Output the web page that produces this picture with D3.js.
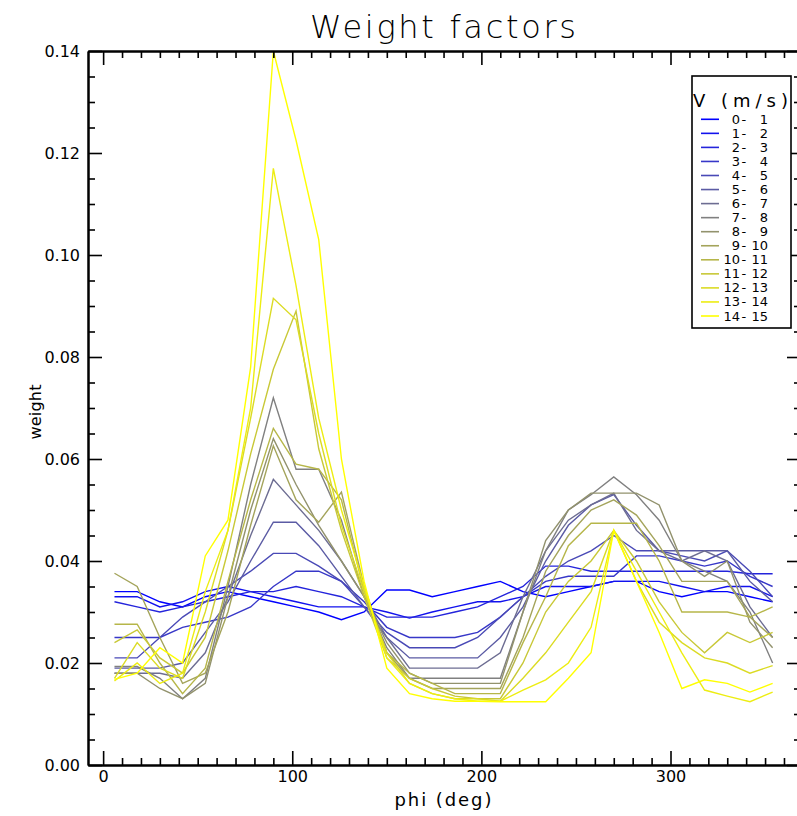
<!DOCTYPE html>
<html><head><meta charset="utf-8">
<script src="https://cdn.jsdelivr.net/npm/d3@7"></script>
<style>
body{margin:0;background:#fff}
svg{display:block}
text{font-family:"DejaVu Sans","Liberation Sans",sans-serif;fill:#000}
</style>
</head><body>
<svg id="chart" width="797" height="816"></svg>
<script>
// ---- data ----
const phi = [6,18,30,42,54,66,78,90,102,114,126,138,150,162,174,186,198,210,222,234,246,258,270,282,294,306,318,330,342,354];
const speedLo = [0,1,2,3,4,5,6,7,8,9,10,11,12,13,14];
const speedHi = [1,2,3,4,5,6,7,8,9,10,11,12,13,14,15];
const w00 = [0.034,0.034,0.032,0.031,0.033,0.034,0.033,0.032,0.031,0.030,0.0285,0.030,0.0343,0.0343,0.033,0.034,0.035,0.036,0.034,0.033,0.034,0.035,0.036,0.036,0.034,0.033,0.034,0.034,0.033,0.032];
const w01 = [0.033,0.033,0.031,0.032,0.034,0.035,0.034,0.033,0.032,0.031,0.031,0.031,0.030,0.0288,0.030,0.031,0.032,0.032,0.033,0.035,0.035,0.035,0.036,0.036,0.036,0.035,0.034,0.035,0.035,0.033];
const w02 = [0.032,0.031,0.030,0.031,0.032,0.033,0.034,0.034,0.035,0.034,0.033,0.031,0.029,0.029,0.029,0.030,0.031,0.033,0.035,0.039,0.039,0.038,0.038,0.038,0.038,0.038,0.038,0.038,0.0375,0.0375];
const w03 = [0.025,0.025,0.025,0.027,0.028,0.029,0.031,0.035,0.038,0.038,0.036,0.032,0.027,0.025,0.025,0.025,0.026,0.029,0.033,0.036,0.037,0.037,0.037,0.041,0.041,0.040,0.039,0.040,0.037,0.035];
const w04 = [0.021,0.021,0.025,0.029,0.032,0.035,0.038,0.0415,0.0415,0.039,0.036,0.031,0.026,0.023,0.023,0.023,0.025,0.029,0.033,0.037,0.040,0.042,0.045,0.042,0.042,0.041,0.040,0.042,0.038,0.033];
const w05 = [0.019,0.019,0.019,0.020,0.026,0.032,0.040,0.0476,0.0476,0.043,0.037,0.031,0.025,0.021,0.021,0.021,0.021,0.025,0.031,0.040,0.047,0.051,0.053,0.047,0.042,0.042,0.042,0.042,0.036,0.032];
const w06 = [0.018,0.018,0.018,0.017,0.022,0.033,0.045,0.056,0.051,0.046,0.040,0.033,0.025,0.019,0.019,0.019,0.019,0.022,0.033,0.042,0.048,0.051,0.0533,0.046,0.042,0.040,0.042,0.040,0.031,0.025];
const w07 = [0.0193,0.0193,0.017,0.013,0.017,0.035,0.055,0.072,0.058,0.058,0.048,0.033,0.023,0.017,0.017,0.017,0.017,0.017,0.030,0.042,0.050,0.053,0.0565,0.053,0.048,0.040,0.038,0.036,0.030,0.020];
const w08 = [0.018,0.018,0.015,0.013,0.016,0.033,0.050,0.064,0.055,0.047,0.040,0.033,0.024,0.018,0.016,0.016,0.016,0.016,0.030,0.044,0.050,0.0533,0.0533,0.0533,0.051,0.040,0.037,0.040,0.028,0.023];
const w09 = [0.0376,0.035,0.025,0.016,0.018,0.030,0.047,0.0626,0.052,0.0476,0.0535,0.035,0.022,0.017,0.015,0.015,0.015,0.015,0.025,0.038,0.045,0.050,0.052,0.049,0.043,0.036,0.036,0.036,0.029,0.025];
const w10 = [0.0276,0.0276,0.020,0.014,0.019,0.036,0.052,0.066,0.059,0.058,0.052,0.034,0.022,0.018,0.016,0.014,0.014,0.014,0.024,0.033,0.043,0.0474,0.0474,0.0474,0.040,0.030,0.030,0.030,0.029,0.031];
const w11 = [0.024,0.0265,0.021,0.018,0.025,0.042,0.061,0.0776,0.089,0.062,0.046,0.033,0.021,0.017,0.015,0.0135,0.013,0.013,0.020,0.030,0.036,0.040,0.046,0.040,0.032,0.026,0.022,0.026,0.024,0.026];
const w12 = [0.017,0.024,0.019,0.017,0.030,0.046,0.068,0.0915,0.0873,0.065,0.047,0.034,0.022,0.016,0.014,0.013,0.013,0.0125,0.017,0.022,0.028,0.034,0.046,0.036,0.028,0.024,0.021,0.020,0.018,0.0195];
const w13 = [0.0165,0.020,0.016,0.018,0.034,0.046,0.070,0.117,0.094,0.068,0.050,0.035,0.021,0.016,0.014,0.013,0.0125,0.0125,0.0147,0.0167,0.020,0.027,0.046,0.038,0.030,0.022,0.0147,0.0135,0.0124,0.0143];
const w14 = [0.0168,0.018,0.023,0.020,0.041,0.048,0.078,0.140,0.1225,0.103,0.060,0.036,0.019,0.014,0.013,0.0125,0.0125,0.0124,0.0124,0.0124,0.017,0.022,0.046,0.036,0.026,0.015,0.0167,0.016,0.0143,0.016];
const series = [w00,w01,w02,w03,w04,w05,w06,w07,w08,w09,w10,w11,w12,w13,w14];
const xMajor = [0,100,200,300];
const xMinor = [10,20,30,40,50,60,70,80,90,110,120,130,140,150,160,170,180,190,210,220,230,240,250,260,270,280,290,310,320,330,340,350,360];
const yMajor = [0,0.02,0.04,0.06,0.08,0.10,0.12,0.14];
const yMinor = [0.005,0.01,0.015,0.025,0.03,0.035,0.045,0.05,0.055,0.065,0.07,0.075,0.085,0.09,0.095,0.105,0.11,0.115,0.125,0.13,0.135];

// ---- drawing ----
const svg = d3.select("#chart");
const L = 88, R = 801, T = 51, B = 765;
const x = d3.scaleLinear().domain([-8, 369]).range([L, R]);
const y = d3.scaleLinear().domain([0, 0.14]).range([B, T]);
const color = d3.scaleLinear().domain([0, 14]).range(["#0000ff", "#ffff00"]).interpolate(d3.interpolateRgb);

// data lines
const line = d3.line().x((d, i) => x(phi[i])).y(d => y(d));
svg.append("g").selectAll("path").data(series).join("path")
  .attr("d", line).attr("fill", "none")
  .attr("stroke", (d, i) => color(i)).attr("stroke-width", 1.4)
  .attr("stroke-linejoin", "miter");

function styleAxis(g) {
  g.selectAll(".domain").attr("stroke", "#000").attr("stroke-width", 2);
  g.selectAll(".tick line").attr("stroke", "#000").attr("stroke-width", 1.6);
  g.selectAll(".tick text").attr("font-size", 16).attr("font-family", "DejaVu Sans");
}
// bottom
svg.append("g").attr("transform", `translate(0,${B})`)
  .call(d3.axisBottom(x).tickValues(xMajor).tickSize(-14).tickSizeOuter(0).tickPadding(6).tickFormat(d3.format("d")))
  .call(styleAxis);
svg.append("g").attr("transform", `translate(0,${B})`)
  .call(d3.axisBottom(x).tickValues(xMinor).tickSize(-7).tickSizeOuter(0).tickFormat(""))
  .call(styleAxis);
// top
svg.append("g").attr("transform", `translate(0,${T})`)
  .call(d3.axisTop(x).tickValues(xMajor).tickSize(-14).tickSizeOuter(0).tickFormat(""))
  .call(styleAxis);
svg.append("g").attr("transform", `translate(0,${T})`)
  .call(d3.axisTop(x).tickValues(xMinor).tickSize(-7).tickSizeOuter(0).tickFormat(""))
  .call(styleAxis);
// left
svg.append("g").attr("transform", `translate(${L},0)`)
  .call(d3.axisLeft(y).tickValues(yMajor).tickSize(-14).tickSizeOuter(0).tickPadding(8).tickFormat(d3.format(".2f")))
  .call(styleAxis);
svg.append("g").attr("transform", `translate(${L},0)`)
  .call(d3.axisLeft(y).tickValues(yMinor).tickSize(-7).tickSizeOuter(0).tickFormat(""))
  .call(styleAxis);
// right
svg.append("g").attr("transform", `translate(${R},0)`)
  .call(d3.axisRight(y).tickValues(yMajor).tickSize(-14).tickSizeOuter(0).tickFormat(""))
  .call(styleAxis);
svg.append("g").attr("transform", `translate(${R},0)`)
  .call(d3.axisRight(y).tickValues(yMinor).tickSize(-7).tickSizeOuter(0).tickFormat(""))
  .call(styleAxis);

// titles
svg.append("text").attr("x", 443).attr("y", 38).attr("text-anchor", "middle")
  .attr("font-size", 32).attr("font-weight", 300).attr("textLength", 266).attr("lengthAdjust", "spacing")
  .text("Weight factors");
svg.append("text").attr("x", 443).attr("y", 806).attr("text-anchor", "middle")
  .attr("font-size", 18).attr("textLength", 97).attr("lengthAdjust", "spacing")
  .text("phi (deg)");
svg.append("text").attr("transform", "translate(41,412) rotate(-90)").attr("text-anchor", "middle")
  .attr("font-size", 16).attr("textLength", 55).attr("lengthAdjust", "spacing")
  .text("weight");

// legend
const lg = svg.append("g");
lg.append("rect").attr("x", 692).attr("y", 76).attr("width", 99).attr("height", 252)
  .attr("fill", "#fff").attr("stroke", "#000").attr("stroke-width", 1.6);
lg.append("text").attr("x", 693).attr("y", 107).attr("font-size", 18)
  .attr("textLength", 95).attr("lengthAdjust", "spacing").text("V (m/s)");
const ly = i => 119.3 + 14.05 * i;
const rows = lg.selectAll("g.row").data(speedLo).join("g").attr("class", "row");
rows.append("line").attr("x1", 701).attr("x2", 719)
  .attr("y1", (d, i) => ly(i)).attr("y2", (d, i) => ly(i))
  .attr("stroke", (d, i) => color(i)).attr("stroke-width", 1.6);
const rt = rows.append("text").attr("y", (d, i) => ly(i) + 4.5).attr("font-size", 13);
rt.append("tspan").attr("x", 740).attr("text-anchor", "end").text(d => d);
rt.append("tspan").attr("x", 741.5).attr("text-anchor", "start").text("-");
rt.append("tspan").attr("x", 768).attr("text-anchor", "end").text((d, i) => speedHi[i]);
</script>
</body></html>
